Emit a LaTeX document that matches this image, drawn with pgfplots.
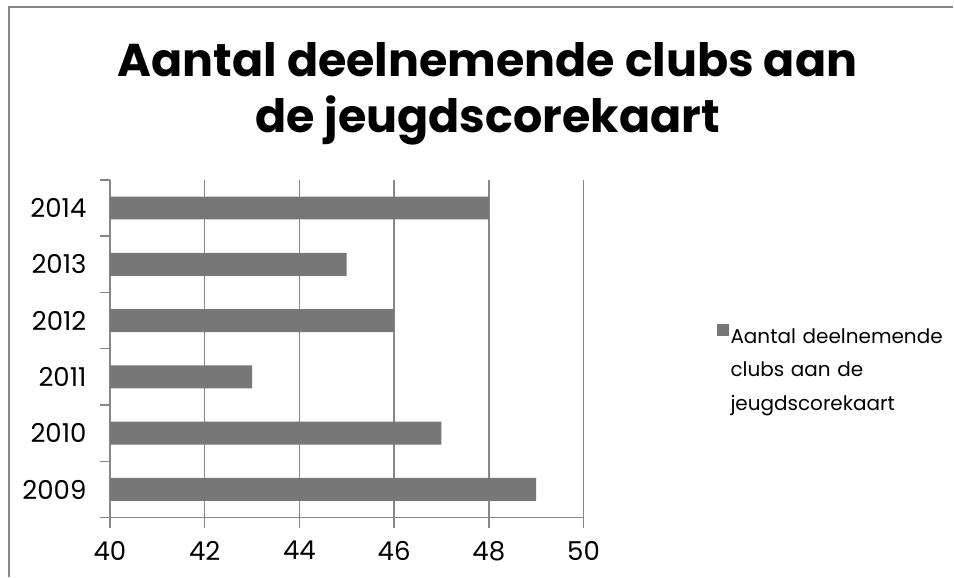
\documentclass[border=0pt]{standalone}
\usepackage{fontspec}
\setmainfont{Poppins}
\usepackage{pgfplots}
\pgfplotsset{compat=1.18}
\definecolor{bargray}{HTML}{777777}
\definecolor{axgray}{HTML}{878787}
\begin{document}
\begin{tikzpicture}[x=1pt,y=1pt]
\path (0,0) rectangle (954,577);
\draw[axgray, line width=1.5pt] (9,0) -- (9,570) -- (954,570);
\node[font=\bfseries\fontsize{46}{56}\selectfont, anchor=base] at (488,500) {Aantal deelnemende clubs aan};
\node[font=\bfseries\fontsize{46}{56}\selectfont, anchor=base] at (488,444) {de jeugdscorekaart};
\begin{axis}[
  at={(110pt,59pt)}, anchor=south west,
  scale only axis, width=474pt, height=338pt,
  xbar, bar width=23pt,
  xmin=40, xmax=50, ymin=-0.5, ymax=5.5,
  xtick={40,42,...,50}, ytick={0,...,5},
  yticklabels={2009,2010,2011,2012,2013,2014},
  minor ytick={-0.5,0.5,...,5.5},
  axis x line*=bottom, axis y line*=left,
  axis line style={axgray, line width=1.5pt, -},
  xmajorgrids, grid style={axgray, line width=1.5pt},
  tick style={axgray, line width=1.5pt},
  every major y tick/.append style={opacity=0},
  tick align=outside,
  major tick length=10pt, minor tick length=10pt,
  ticklabel style={font=\fontsize{26}{30}\selectfont},
  yticklabel style={xshift=-10pt},
  xticklabel style={yshift=-10pt},
  /pgf/number format/assume math mode=true,
  legend cell align=left,
  legend style={at={(1.274,0.539)}, anchor=west, draw=none,
    font=\fontsize{20}{33.5}\selectfont,
    nodes={text width=210pt, align=left}},
  legend image code/.code={\fill[bargray] (0pt,0pt) rectangle (12pt,12pt);},
]
\addplot[draw=none, fill=bargray] coordinates {(49,0) (47,1) (43,2) (46,3) (45,4) (48,5)};
\addlegendentry{\mbox{Aantal deelnemende}\\\mbox{clubs aan de}\\\mbox{jeugdscorekaart}}
\end{axis}
\end{tikzpicture}
\end{document}
